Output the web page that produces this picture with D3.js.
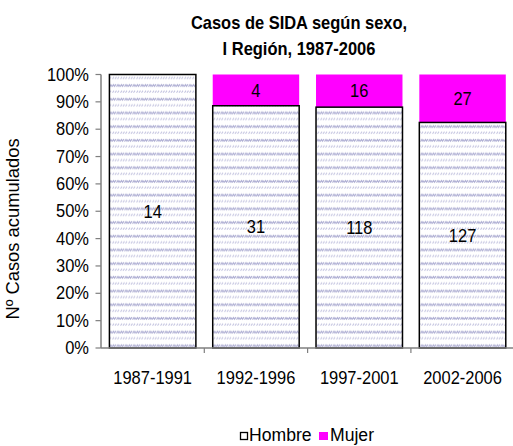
<!DOCTYPE html>
<html>
<head>
<meta charset="utf-8">
<script src="https://cdn.jsdelivr.net/npm/d3@7.9.0/dist/d3.min.js"></script>
<style>
  html, body { margin: 0; padding: 0; background: #fff; }
  svg { display: block; font-family: "Liberation Sans", Arial, sans-serif; }
</style>
</head>
<body>
<svg id="chart" width="513" height="446"></svg>
<script>
// === Data ===
const periods = ['1987-1991', '1992-1996', '1997-2001', '2002-2006'];
const hombre = [14, 31, 118, 127];
const mujer = [0, 4, 16, 27];
const yTicks = [0, 0.1, 0.2, 0.3, 0.4, 0.5, 0.6, 0.7, 0.8, 0.9, 1];
const titleLines = ['Casos de SIDA según sexo,', 'I Región, 1987-2006'];

const svg = d3.select('#chart');
const stretch = 1.1; // text in the picture is a little taller than wide

// pattern for the Hombre bars (grey-blue squiggles)
const defs = svg.append('defs');
const pat = defs.append('pattern')
  .attr('id', 'wave')
  .attr('patternUnits', 'userSpaceOnUse')
  .attr('width', 8)
  .attr('height', 13.7);
pat.append('rect').attr('width', 8).attr('height', 13.7).attr('fill', '#fff');
pat.append('path')
  .attr('d', 'M0,4.5 L1.5,2.5 L2.5,4 L4,2 M4.5,4.5 L6,2.5 L7,4 L8,2.5')
  .attr('stroke', '#b0b0d4').attr('stroke-width', 1.2).attr('fill', 'none');
pat.append('path')
  .attr('d', 'M0.5,10.5 L2,8.5 M3,10.5 L4.5,8.5 M5.5,10.5 L7,8.5')
  .attr('stroke', '#c4c4e0').attr('stroke-width', 1.1).attr('fill', 'none');

// === Scales ===
const x = d3.scaleBand()
  .domain(periods)
  .range([101, 101 + 4 * 103.3])
  .paddingInner(0.163)
  .paddingOuter(0.0815);

const y = d3.scaleLinear().domain([0, 1]).range([348, 74.5]);

const rows = periods.map((p, i) => {
  const total = hombre[i] + mujer[i];
  return { period: p, h: hombre[i], m: mujer[i], ph: hombre[i] / total };
});

// === Title ===
titleLines.forEach((t, i) => {
  svg.append('text')
    .attr('transform', `translate(299,${29 + i * 26}) scale(1.03,${stretch})`)
    .attr('text-anchor', 'middle')
    .attr('font-size', 16)
    .attr('font-weight', 'bold')
    .text(t);
});

// === Bars ===
const bars = svg.append('g');

// Mujer segment (no border)
bars.selectAll('rect.mujer')
  .data(rows.filter((d) => d.m > 0))
  .join('rect')
  .attr('x', (d) => x(d.period))
  .attr('y', y(1))
  .attr('width', x.bandwidth())
  .attr('height', (d) => y(d.ph) - y(1))
  .attr('fill', '#ff00ff');

// Hombre segment
bars.selectAll('rect.hombre')
  .data(rows)
  .join('rect')
  .attr('x', (d) => x(d.period))
  .attr('y', (d) => y(d.ph))
  .attr('width', x.bandwidth())
  .attr('height', (d) => y(0) - y(d.ph))
  .attr('fill', 'url(#wave)')
  .attr('stroke', '#000')
  .attr('stroke-width', 1.5);

// value labels
const labels = svg.append('g')
  .attr('font-size', 16)
  .attr('text-anchor', 'middle')
  .attr('fill', '#000');

rows.forEach((d) => {
  const cx = x(d.period) + x.bandwidth() / 2;
  labels.append('text')
    .attr('transform', `translate(${cx},${y(d.ph / 2) + 6.5}) scale(1.03,${stretch})`)
    .text(d.h);
  if (d.m > 0) {
    labels.append('text')
      .attr('transform', `translate(${cx},${y((1 + d.ph) / 2) + 6.5}) scale(1.03,${stretch})`)
      .text(d.m);
  }
});

// === Axes ===
const axisColor = '#7f7f7f';
const yAxis = svg.append('g');
yAxis.append('line')
  .attr('x1', 101).attr('x2', 101)
  .attr('y1', y(0)).attr('y2', y(1))
  .attr('stroke', axisColor).attr('stroke-width', 1.5);
yTicks.forEach((t) => {
  yAxis.append('line')
    .attr('x1', 95.5).attr('x2', 101)
    .attr('y1', y(t)).attr('y2', y(t))
    .attr('stroke', axisColor).attr('stroke-width', 1.2);
  yAxis.append('text')
    .attr('transform', `translate(89,${y(t) + 6}) scale(1.03,${stretch})`)
    .attr('text-anchor', 'end')
    .attr('font-size', 16)
    .text(d3.format('.0%')(t));
});

const xAxis = svg.append('g');
xAxis.append('line')
  .attr('x1', 101).attr('x2', 513)
  .attr('y1', y(0)).attr('y2', y(0))
  .attr('stroke', axisColor).attr('stroke-width', 1.5);
periods.forEach((p, i) => {
  const bx = x(p) - x.step() * x.paddingOuter();
  if (i > 0) {
    xAxis.append('line')
      .attr('x1', bx).attr('x2', bx)
      .attr('y1', y(0)).attr('y2', y(0) + 5)
      .attr('stroke', axisColor).attr('stroke-width', 1.2);
  }
  xAxis.append('text')
    .attr('transform', `translate(${x(p) + x.bandwidth() / 2},384) scale(1.03,${stretch})`)
    .attr('text-anchor', 'middle')
    .attr('font-size', 16)
    .text(p);
});

// y label
svg.append('text')
  .attr('transform', 'translate(19,229) rotate(-90) scale(1.08,1.03)')
  .attr('text-anchor', 'middle')
  .attr('font-size', 17)
  .text('Nº Casos acumulados');

// === Legend ===
const legend = svg.append('g').attr('font-size', 16);
legend.append('rect')
  .attr('x', 240.5).attr('y', 432.5).attr('width', 7).attr('height', 7)
  .attr('fill', '#fff').attr('stroke', '#000').attr('stroke-width', 1.3);
legend.append('text')
  .attr('transform', `translate(249,441) scale(1.1,${stretch})`)
  .text('Hombre');
legend.append('rect')
  .attr('x', 319).attr('y', 432).attr('width', 9).attr('height', 8)
  .attr('fill', '#ff00ff');
legend.append('text')
  .attr('transform', `translate(330,441) scale(1.1,${stretch})`)
  .text('Mujer');
</script>
</body>
</html>
